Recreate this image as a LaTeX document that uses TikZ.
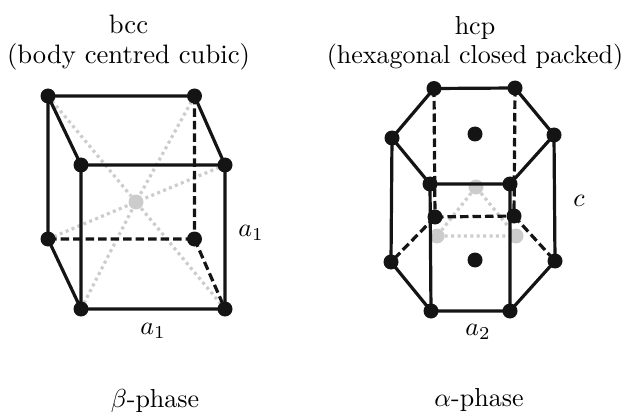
\documentclass[tikz,border=0pt]{standalone}
\begin{document}
\begin{tikzpicture}[x=1pt,y=-1pt,
  edge/.style={line width=3.2pt,draw=black!92},
  hid/.style={edge,dash pattern=on 8.5pt off 4pt},
  ghost/.style={line width=3.2pt,draw=black!20,dash pattern=on 3pt off 3.4pt},
  atom/.style={circle,fill=black!92,inner sep=0pt,minimum size=15pt},
  gatom/.style={circle,fill=black!20,inner sep=0pt,minimum size=15pt},
  lab/.style={scale=2.6,align=center,inner sep=0pt},
]
\useasboundingbox (0,0) rectangle (632,417);
% bcc
\coordinate (a) at (48,96); \coordinate (b) at (194.5,96);
\coordinate (c) at (81,165); \coordinate (d) at (225,165);
\coordinate (e) at (48,239); \coordinate (f) at (194.5,239);
\coordinate (g) at (81,309); \coordinate (h) at (225,309);
\node[gatom] (m) at (136,202) {};
\draw[ghost] (a)--(m) (b)--(m) (d)--(m) (e)--(m) (g)--(m) (h)--(m);
\draw[edge] (a)--(b) (a)--(e) (a)--(c) (b)--(d) (c)--(d) (c)--(g) (d)--(h) (g)--(h) (e)--(g);
\draw[hid] (b)--(f) (e)--(f) (f)--(h);
\foreach \p in {a,b,c,d,e,f,g,h} \node[atom] at (\p) {};
% hcp
\coordinate (p1) at (434,88.5); \coordinate (p2) at (515,88);
\coordinate (p3) at (392,138); \coordinate (p4) at (554,135);
\coordinate (p5) at (430,184); \coordinate (p6) at (510,184);
\coordinate (q1) at (435,217); \coordinate (q2) at (514,216);
\coordinate (q3) at (391,262); \coordinate (q4) at (555,261);
\coordinate (q5) at (431,311); \coordinate (q6) at (510,311);
\node[gatom] (g1) at (476,187) {};
\node[gatom] (g2) at (437,236) {};
\node[gatom] (g3) at (516,236) {};
\draw[ghost] (g1)--(g2)--(g3)--(g1);
\draw[edge] (p1)--(p2)--(p4)--(p6)--(p5)--(p3)--(p1);
\draw[edge] (q3)--(q5)--(q6)--(q4);
\draw[edge] (p3)--(q3) (p4)--(q4) (p5)--(q5) (p6)--(q6);
\draw[hid] (p1)--(q1) (p2)--(q2) (q1)--(q2) (q1)--(q3) (q2)--(q4);
\foreach \p in {p1,p2,p3,p4,p5,p6,q1,q2,q3,q4,q5,q6} \node[atom] at (\p) {};
\node[atom] (t) at (475,134) {};
\node[atom] (u) at (475,260) {};
% text
\node[lab,scale=1.025] (t1) at (128.5,43) {bcc\\[-0.8pt](body centred cubic)};
\node[lab] (t2) at (475,43) {hcp\\[-0.8pt](hexagonal closed packed)};
\node[lab] (l1) at (251,233) {$a_1$};
\node[lab] (l2) at (153,331) {$a_1$};
\node[lab] (l3) at (579,201) {$c$};
\node[lab] (l4) at (478,332) {$a_2$};
\node[lab] (l5) at (155,401) {$\beta$-phase};
\node[lab] (l6) at (479,400) {$\alpha$-phase};
\end{tikzpicture}
\end{document}
